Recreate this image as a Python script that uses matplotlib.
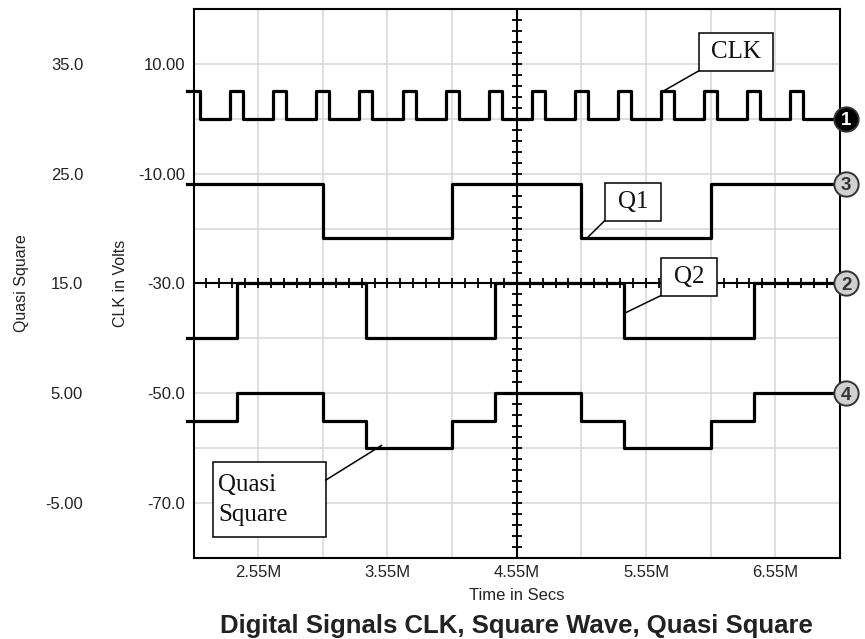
import numpy as np
import matplotlib
matplotlib.use("Agg")
import matplotlib.pyplot as plt
from matplotlib.patches import Rectangle

plt.rcParams["font.family"] = ["Liberation Sans", "DejaVu Sans"]

# time in M units, levels in the CLK axis volts
clk_time = [2.0, 2.10, 2.333, 2.433, 2.667, 2.767, 3.0, 3.1, 3.333, 3.433,
            3.667, 3.767, 4.0, 4.1, 4.333, 4.433, 4.667, 4.767, 5.0, 5.1,
            5.333, 5.433, 5.667, 5.767, 6.0, 6.1, 6.333, 6.433, 6.667, 6.767, 7.05]
clk_volts = [5, 0, 5, 0, 5, 0, 5, 0, 5, 0,
             5, 0, 5, 0, 5, 0, 5, 0, 5, 0,
             5, 0, 5, 0, 5, 0, 5, 0, 5, 0, 0]

q1_time = [2.0, 3.05, 4.05, 5.05, 6.05, 7.05]
q1_volts = [-11.8, -21.8, -11.8, -21.8, -11.8, -11.8]

q2_time = [2.0, 2.383, 3.383, 4.383, 5.383, 6.383, 7.05]
q2_volts = [-40, -30, -40, -30, -40, -30, -30]

# quasi square uses its own scale (second left axis)
quasi_time = [2.0, 2.383, 3.05, 3.383, 4.05, 4.383, 5.05, 5.383, 6.05, 6.383, 7.05]
quasi_level = [2.5, 5, 2.5, 0, 2.5, 5, 2.5, 0, 2.5, 5, 5]

time_ticks = [2.55, 3.55, 4.55, 5.55, 6.55]
time_labels = ["2.55M", "3.55M", "4.55M", "5.55M", "6.55M"]
clk_ticks = [10, -10, -30, -50, -70]
clk_labels = ["10.00", "-10.00", "-30.0", "-50.0", "-70.0"]
quasi_ticks = [35, 25, 15, 5, -5]
quasi_labels = ["35.0", "25.0", "15.0", "5.00", "-5.00"]

TXT = "#222222"
GRID = "#d6d6d6"
LW = 2.3

fig = plt.figure(figsize=(8.65, 6.39), dpi=100)
ax = fig.add_axes([0.2237, 0.1268, 0.7474, 0.8591])
ax2 = ax.twinx()

ax.set_xlim(2.05, 7.05)
ax.set_ylim(-80, 20)
ax2.set_ylim(-10, 40)

# grid: labelled ticks as major, in-between divisions as minor
ax.set_xticks(time_ticks)
ax.set_xticklabels(time_labels)
ax.set_xticks([2.05, 3.05, 4.05, 5.05, 6.05, 7.05], minor=True)
ax.set_yticks(clk_ticks)
ax.set_yticklabels(clk_labels)
ax.set_yticks([20, 0, -20, -40, -60, -80], minor=True)
ax.grid(True, which="both", color=GRID, linewidth=1.1)
ax.set_axisbelow(True)
ax.tick_params(axis="both", which="both", length=0, labelsize=12, colors=TXT)
ax.tick_params(axis="y", pad=6)
ax.tick_params(axis="x", pad=5)
for s in ax.spines.values():
    s.set_linewidth(1.5)
    s.set_color("black")

ax2.set_yticks(quasi_ticks)
ax2.set_yticklabels(quasi_labels)
ax2.yaxis.tick_left()
ax2.yaxis.set_label_position("left")
ax2.tick_params(axis="y", length=0, labelsize=12, colors=TXT, pad=79.5)
for s in ax2.spines.values():
    s.set_visible(False)

ax.set_ylabel("CLK in Volts", fontsize=11.5, color=TXT)
ax.yaxis.set_label_coords(-0.102, 0.5)
ax2.set_ylabel("Quasi Square", fontsize=11.5, color=TXT)
ax2.yaxis.set_label_coords(-0.254, 0.5)
ax.set_xlabel("Time in Secs", fontsize=12, color=TXT, labelpad=6)

# crosshair through the centre of the screen
ax.axvline(4.55, color="black", lw=1.5, zorder=2.5)
ax.axhline(-30, color="black", lw=1.5, zorder=2.5)
ax.plot(np.full(51, 4.55), np.arange(-80, 21, 2), ls="none", marker="_",
        ms=7, mew=1.3, color="black", zorder=2.5)
ax.plot(np.arange(2.05, 7.06, 0.1), np.full(51, -30), ls="none", marker="|",
        ms=7, mew=1.3, color="black", zorder=2.5)

# traces
ax.step(clk_time, clk_volts, where="post", color="black", lw=LW, zorder=3, clip_on=False)
ax.step(q1_time, q1_volts, where="post", color="black", lw=LW, zorder=3, clip_on=False)
ax.step(q2_time, q2_volts, where="post", color="black", lw=LW, zorder=3, clip_on=False)
ax2.step(quasi_time, quasi_level, where="post", color="black", lw=LW, zorder=3, clip_on=False)

# trace number badges at the right edge
def badge(axis, y, num, dark=False):
    face = "black" if dark else "#d0d0d0"
    fg = "white" if dark else "#333333"
    axis.plot([7.098], [y], marker="o", ms=17.5, mfc=face, mec="#333333", mew=1.4,
              clip_on=False, zorder=6)
    axis.text(7.098, y, num, ha="center", va="center_baseline", fontsize=13.5,
              fontweight="heavy", color=fg, zorder=7, clip_on=False)

badge(ax, clk_volts[-1], "1", dark=True)
badge(ax, q1_volts[0], "3")
badge(ax, q2_volts[-1], "2")
badge(ax2, quasi_level[-1], "4")

# callout boxes with leader lines
def callout(text, x0, x1, y0, y1, lead_from, lead_to, ha="center", tx=None, ls=1.15):
    ax.add_patch(Rectangle((x0, y0), x1 - x0, y1 - y0, fill=True, fc="white",
                           ec="black", lw=1.1, zorder=5))
    ax.plot([lead_from[0], lead_to[0]], [lead_from[1], lead_to[1]],
            color="black", lw=1.1, zorder=5)
    xt = (x0 + x1) / 2 if tx is None else tx
    ax.text(xt, (y0 + y1) / 2, text, ha=ha, va="center", fontsize=18,
            family=["Liberation Serif", "DejaVu Serif"], color="#111111",
            zorder=6, linespacing=ls)

callout("CLK", 5.956, 6.528, 8.71, 15.63, (5.956, 8.71), (5.68, 5.0))
callout("Q1", 5.23, 5.668, -18.56, -11.75, (5.23, -18.56), (5.09, -21.8))
callout("Q2", 5.663, 6.101, -32.22, -25.3, (5.663, -32.22), (5.385, -35.4))
callout("Quasi\nSquare", 2.198, 3.074, -76.23, -62.57, (3.074, -65.8), (3.504, -59.5),
        ha="left", tx=2.24, ls=1.5)

fig.text(0.5974, 0.021, "Digital Signals CLK, Square Wave, Quasi Square",
         ha="center", va="center", fontsize=18.5, fontweight="bold", color=TXT)

fig.savefig("out.png", dpi=100)
